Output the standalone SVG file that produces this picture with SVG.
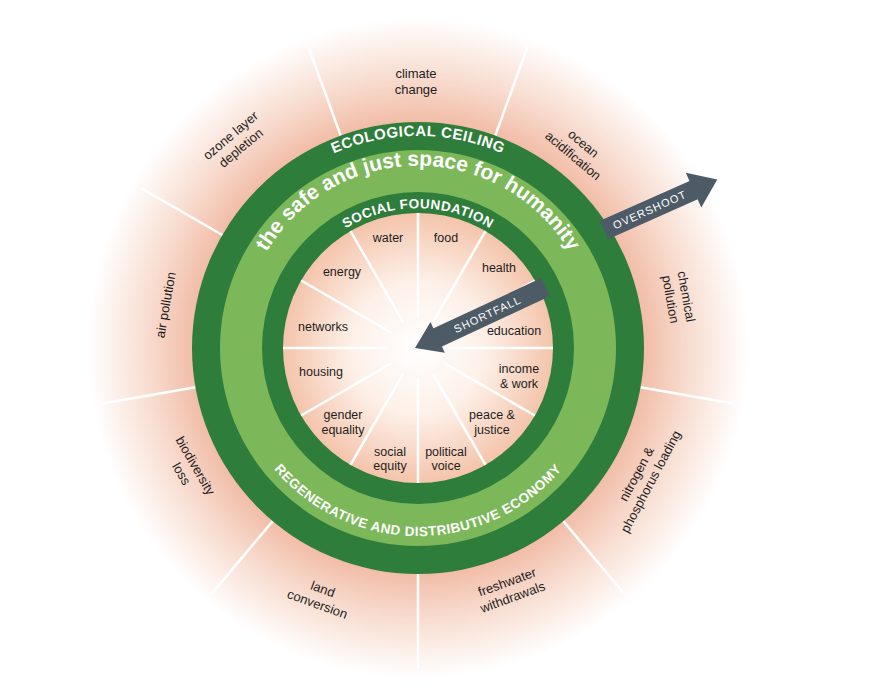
<svg xmlns="http://www.w3.org/2000/svg" width="884" height="692" viewBox="0 0 884 692">
<defs>
<radialGradient id="glow" gradientUnits="userSpaceOnUse" cx="418" cy="348" r="330">
<stop offset="0.62" stop-color="#eeae95"/><stop offset="0.82" stop-color="#f8dccf"/><stop offset="1" stop-color="#ffffff"/>
</radialGradient>
<radialGradient id="core" gradientUnits="userSpaceOnUse" cx="418" cy="348" r="135">
<stop offset="0" stop-color="#ffffff"/><stop offset="0.5" stop-color="#fdf0e8"/><stop offset="1" stop-color="#f4c4ab"/>
</radialGradient>
<path id="pEco" d="M281.7,185.6 A212,212 0 0 1 554.3,185.6"/>
<path id="pSafe" d="M243.7,317.3 A176,176 0 0 1 592.3,317.3"/>
<path id="pSoc" d="M328,241 A140,140 0 0 1 508,241"/>
<path id="pReg" d="M241.3,412.3 A188,188 0 0 0 594.7,412.3"/>
<style>
.lbl{font-family:"Liberation Sans",Arial,sans-serif;font-size:13px;fill:#1e1e1e;text-anchor:middle}
.in{font-family:"Liberation Sans",Arial,sans-serif;font-size:12.5px;fill:#1e1e1e;text-anchor:middle}
.ring{font-family:"Liberation Sans",Arial,sans-serif;font-size:15px;fill:#fff;letter-spacing:0.5px;font-weight:bold}
.sep{stroke:#fff;stroke-width:2.5}
.arw{fill:#4d5b66}
.at{font-family:"Liberation Sans",Arial,sans-serif;font-size:11px;fill:#fff;text-anchor:middle;letter-spacing:1px}
</style>
</defs>
<rect width="884" height="692" fill="#fff"/>
<circle cx="418" cy="348" r="330" fill="url(#glow)"/>
<g id="outer-separators" class="sep">
<line x1="340.7" y1="135.6" x2="308.6" y2="47.3"/>
<line x1="495.3" y1="135.6" x2="527.4" y2="47.3"/>
<line x1="613.7" y1="235" x2="695.1" y2="188"/>
<line x1="640.6" y1="387.2" x2="733.1" y2="403.6"/>
<line x1="563.3" y1="521.1" x2="623.7" y2="593.1"/>
<line x1="418" y1="574" x2="418" y2="668"/>
<line x1="272.7" y1="521.1" x2="212.3" y2="593.1"/>
<line x1="195.4" y1="387.2" x2="102.9" y2="403.6"/>
<line x1="222.3" y1="235" x2="140.9" y2="188"/>
</g>
<g id="rings">
<circle cx="418" cy="348" r="226" fill="#2e7d3b"/>
<circle cx="418" cy="348" r="198" fill="#7cb85a"/>
<circle cx="418" cy="348" r="156" fill="#2e7d3b"/>
<circle cx="418" cy="348" r="135" fill="url(#core)"/>
</g>
<g id="inner-separators" class="sep" stroke-width="2">
<line x1="418" y1="318" x2="418" y2="213"/>
<line x1="433" y1="322" x2="485.5" y2="231.1"/>
<line x1="444" y1="333" x2="534.9" y2="280.5"/>
<line x1="448" y1="348" x2="553" y2="348"/>
<line x1="444" y1="363" x2="534.9" y2="415.5"/>
<line x1="433" y1="374" x2="485.5" y2="464.9"/>
<line x1="418" y1="378" x2="418" y2="483"/>
<line x1="403" y1="374" x2="350.5" y2="464.9"/>
<line x1="392" y1="363" x2="301.1" y2="415.5"/>
<line x1="388" y1="348" x2="283" y2="348"/>
<line x1="392" y1="333" x2="301.1" y2="280.5"/>
<line x1="403" y1="322" x2="350.5" y2="231.1"/>
</g>
<g id="ring-labels">
<text class="ring"><textPath href="#pEco" startOffset="50%" text-anchor="middle">ECOLOGICAL CEILING</textPath></text>
<text class="ring" style="font-size:21px;letter-spacing:0"><textPath href="#pSafe" startOffset="50%" text-anchor="middle">the safe and just space for humanity</textPath></text>
<text class="ring" style="font-size:13.5px"><textPath href="#pSoc" startOffset="50%" text-anchor="middle">SOCIAL FOUNDATION</textPath></text>
<text class="ring" style="font-size:13.5px"><textPath href="#pReg" startOffset="50%" text-anchor="middle">REGENERATIVE AND DISTRIBUTIVE ECONOMY</textPath></text>
</g>
<g id="ecological-labels">
<g id="climate"><text class="lbl" x="416" y="78">climate</text><text class="lbl" x="416" y="94">change</text></g>
<g id="ocean" transform="translate(578,150) rotate(40)"><text class="lbl" y="-4">ocean</text><text class="lbl" y="12">acidification</text></g>
<g id="chemical" transform="translate(678,298) rotate(80)"><text class="lbl" y="-4">chemical</text><text class="lbl" y="12">pollution</text></g>
<g id="nitrogen" transform="translate(644,478) rotate(-62)"><text class="lbl" y="-4">nitrogen &amp;</text><text class="lbl" y="12">phosphorus loading</text></g>
<g id="freshwater" transform="translate(510,590) rotate(-20)"><text class="lbl" y="-4">freshwater</text><text class="lbl" y="12">withdrawals</text></g>
<g id="land" transform="translate(320,597) rotate(20)"><text class="lbl" y="-4">land</text><text class="lbl" y="12">conversion</text></g>
<g id="biodiversity" transform="translate(188,470) rotate(60)"><text class="lbl" y="-4">biodiversity</text><text class="lbl" y="12">loss</text></g>
<g id="air" transform="translate(166,305) rotate(-80)"><text class="lbl" y="4">air pollution</text></g>
<g id="ozone" transform="translate(236,142) rotate(-40)"><text class="lbl" y="-4">ozone layer</text><text class="lbl" y="12">depletion</text></g>
</g>
<g id="social-labels">
<text class="in" x="388" y="242">water</text>
<text class="in" x="446" y="242">food</text>
<text class="in" x="499" y="272">health</text>
<text class="in" x="514" y="335">education</text>
<text class="in" x="519" y="373">income</text><text class="in" x="519" y="388">&amp; work</text>
<text class="in" x="492" y="419">peace &amp;</text><text class="in" x="492" y="434">justice</text>
<text class="in" x="446" y="456">political</text><text class="in" x="446" y="470">voice</text>
<text class="in" x="390" y="456">social</text><text class="in" x="390" y="470">equity</text>
<text class="in" x="343" y="419">gender</text><text class="in" x="343" y="434">equality</text>
<text class="in" x="321" y="376">housing</text>
<text class="in" x="323" y="331">networks</text>
<text class="in" x="342" y="276">energy</text>
</g>
<g id="connectors">
<g id="overshoot" transform="translate(604,230) rotate(-24)">
<rect class="arw" x="0" y="-10" width="100" height="20"/>
<polygon class="arw" points="98,-19 124,0 98,19"/>
<text class="at" x="50" y="4">OVERSHOOT</text>
</g>
<g id="shortfall" transform="translate(415,348) rotate(-25)">
<polygon class="arw" points="0,0 25,-17 25,17"/>
<rect class="arw" x="24" y="-10" width="120" height="20"/>
<text class="at" x="80" y="4">SHORTFALL</text>
</g>
</g>
</svg>
